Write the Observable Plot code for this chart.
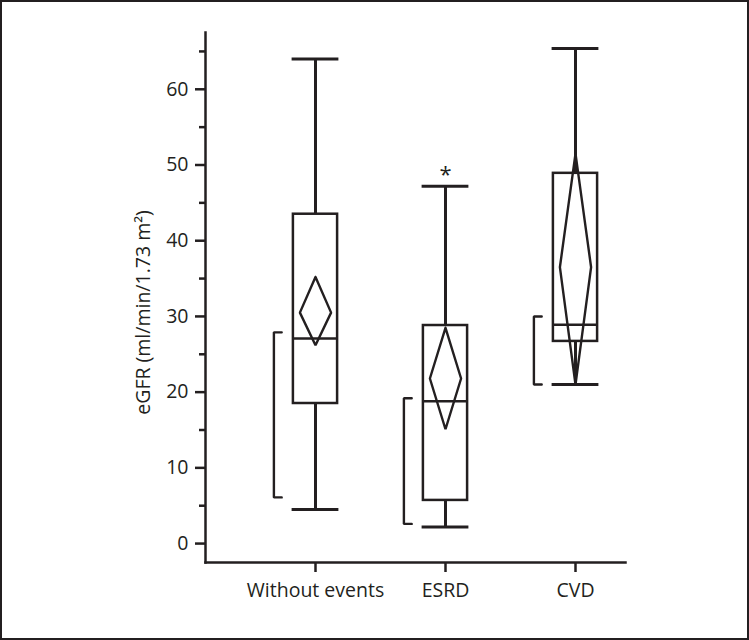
<!DOCTYPE html>
<html><head><meta charset="utf-8">
<script src="https://cdn.jsdelivr.net/npm/d3@7"></script>
<script src="https://cdn.jsdelivr.net/npm/@observablehq/plot@0.6"></script>
<style>
html,body{margin:0;padding:0;background:#fff;}
#frame{width:749px;height:640px;box-sizing:border-box;border:2px solid #231f20;overflow:hidden;background:#fff;}
</style></head><body><div id="frame"></div>
<script>
const categories = ["Without events", "ESRD", "CVD"];
const whiskerLow = [4.5, 2.2, 21.0];
const q1 = [18.5, 5.7, 26.7];
const median = [27.1, 18.8, 28.9];
const q3 = [43.5, 28.8, 48.9];
const whiskerHigh = [64.0, 47.2, 65.4];
const diamondLow = [26.2, 15.1, 21.0];
const diamondMid = [30.5, 21.8, 36.5];
const diamondHigh = [35.2, 28.5, 51.5];
const bracketLow = [6.1, 2.6, 21.0];
const bracketHigh = [27.9, 19.2, 30.0];
const significance = ["", "*", ""];
const yTicks = [0, 10, 20, 30, 40, 50, 60];
const yMinorTicks = [5, 15, 25, 35, 45, 55, 65];
const yLabel = "eGFR (ml/min/1.73 m²)";

const ink = "#231f20";
const FONT = "'Open Sans', sans-serif";
const FS = 19.5;
const bw = 0.17, cw = 0.18, dw = 0.12, bx = 0.32, be = 0.06;

const rows = categories.map((name, i) => ({
  i, name, lo: whiskerLow[i], q1: q1[i], med: median[i], q3: q3[i], hi: whiskerHigh[i],
  dlo: diamondLow[i], dmid: diamondMid[i], dhi: diamondHigh[i],
  blo: bracketLow[i], bhi: bracketHigh[i], sig: significance[i]
}));
const diamondPts = rows.flatMap(r => [
  {name: r.name, x: r.i, y: r.dhi},
  {name: r.name, x: r.i + dw, y: r.dmid},
  {name: r.name, x: r.i, y: r.dlo},
  {name: r.name, x: r.i - dw, y: r.dmid},
  {name: r.name, x: r.i, y: r.dhi}
]);
const bracketPts = rows.flatMap(r => [
  {name: r.name, x: r.i - bx + be, y: r.bhi},
  {name: r.name, x: r.i - bx, y: r.bhi},
  {name: r.name, x: r.i - bx, y: r.blo},
  {name: r.name, x: r.i - bx + be, y: r.blo}
]);

const chart = Plot.plot({
  width: 745,
  height: 636,
  marginLeft: 203,
  marginRight: 122,
  marginTop: 30,
  marginBottom: 76,
  style: {fontFamily: FONT, fontSize: FS + "px", color: ink, background: "#fff"},
  x: {type: "linear", domain: [-110 / 130, 2 + 50 / 130]},
  y: {domain: [-2.5, 67.5]},
  marks: [
    Plot.frame({anchor: "left", stroke: ink, strokeWidth: 2.5}),
    Plot.frame({anchor: "bottom", stroke: ink, strokeWidth: 2.5}),
    Plot.axisY(yTicks, {tickSize: 10, tickPadding: 7, strokeWidth: 2.5, stroke: ink, fill: ink, fontSize: FS, label: null}),
    Plot.axisY(yMinorTicks, {tickSize: 6, strokeWidth: 2.5, stroke: ink, tickFormat: () => "", label: null}),
    Plot.axisX([0, 1, 2], {tickSize: 10, tickPadding: 11, strokeWidth: 2.5, stroke: ink, fill: ink, fontSize: FS, tickFormat: i => categories[i], label: null}),
    Plot.text([yLabel], {frameAnchor: "left", textAnchor: "middle", rotate: -90, dx: -62, dy: 15, text: d => d, fontSize: FS, fill: ink}),
    Plot.ruleX(rows, {x: "i", y1: "q3", y2: "hi", stroke: ink, strokeWidth: 3}),
    Plot.ruleX(rows, {x: "i", y1: "lo", y2: "q1", stroke: ink, strokeWidth: 3}),
    Plot.ruleY(rows, {x1: d => d.i - cw, x2: d => d.i + cw, y: "hi", stroke: ink, strokeWidth: 3}),
    Plot.ruleY(rows, {x1: d => d.i - cw, x2: d => d.i + cw, y: "lo", stroke: ink, strokeWidth: 3}),
    Plot.rect(rows, {x1: d => d.i - bw, x2: d => d.i + bw, y1: "q1", y2: "q3", fill: "none", stroke: ink, strokeWidth: 2.5}),
    Plot.ruleY(rows, {x1: d => d.i - bw, x2: d => d.i + bw, y: "med", stroke: ink, strokeWidth: 2.5}),
    Plot.line(diamondPts, {x: "x", y: "y", z: "name", stroke: ink, strokeWidth: 2.4, strokeLinejoin: "miter", curve: "linear"}),
    Plot.line(bracketPts, {x: "x", y: "y", z: "name", stroke: ink, strokeWidth: 2.4, strokeLinejoin: "miter", curve: "linear"}),
    Plot.text(rows.filter(r => r.sig), {x: "i", y: "hi", text: "sig", dy: -11, fontSize: 22, fill: ink})
  ]
});
document.getElementById("frame").appendChild(chart);
</script>
</body></html>
